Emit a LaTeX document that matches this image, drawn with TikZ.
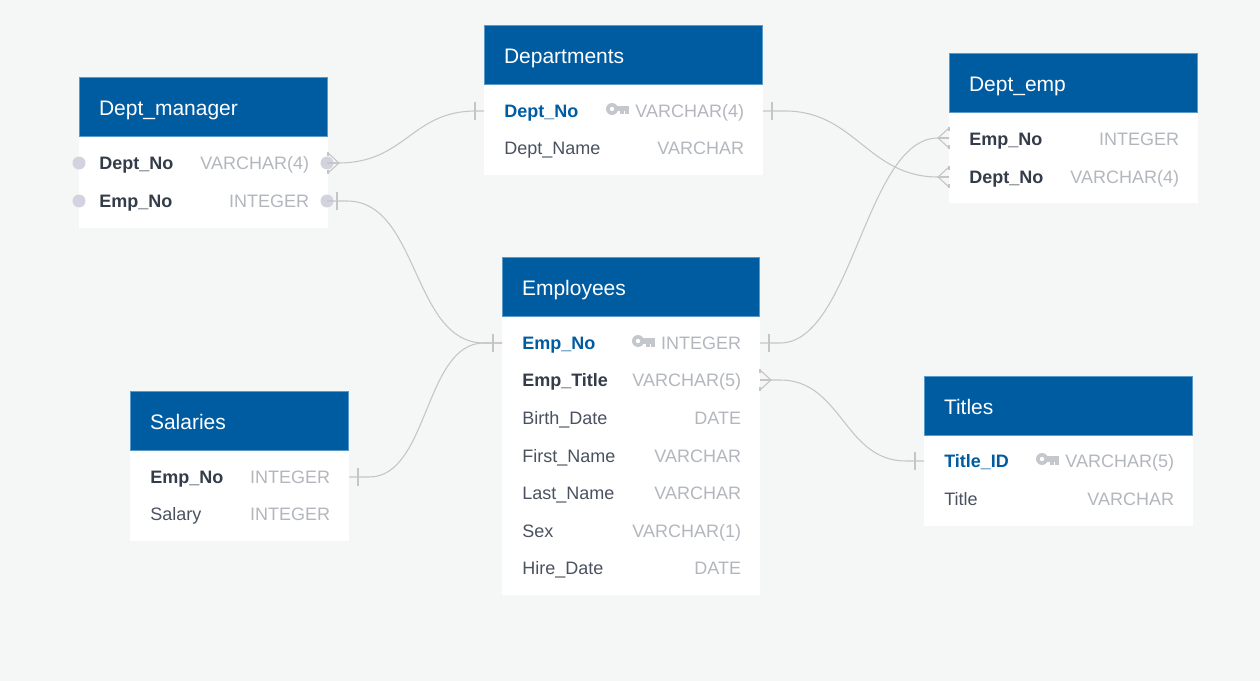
\documentclass[tikz,border=0pt]{standalone}
\usepackage{fontspec}
\usetikzlibrary{calc}
\setmainfont{Liberation Sans}
\definecolor{pagebg}{HTML}{F5F7F6}
\definecolor{headblue}{HTML}{005CA1}
\definecolor{headedge}{HTML}{5A9ACB}
\definecolor{boldtext}{HTML}{333C48}
\definecolor{plaintext}{HTML}{4A5260}
\definecolor{typetext}{HTML}{B3B7BD}
\definecolor{relcolor}{HTML}{C4C5C4}
\definecolor{dotcolor}{HTML}{D2D3DE}
\definecolor{keycolor}{HTML}{C4C7CC}
\def\px{0.75pt}
\tikzset{
  tablehead/.style={anchor=north west,fill=headblue,draw=headedge,line width=0.3pt,outer sep=0pt,text=white,inner xsep=20*\px,inner ysep=0pt,
    minimum height=59.6*\px,text height=21*\px,text depth=3*\px,align=left,font=\fontsize{15.75}{18}\selectfont},
  tablebody/.style={anchor=north west,fill=white,inner sep=0pt},
  rowname/.style={anchor=base west,inner sep=0pt,text=plaintext,font=\fontsize{13.5}{16}\selectfont},
  rowbold/.style={rowname,text=boldtext,font=\fontsize{13.5}{16}\selectfont\bfseries},
  rowkey/.style={rowname,text=headblue,font=\fontsize{13.5}{16}\selectfont\bfseries},
  rowtype/.style={anchor=base east,xshift=0.3*\px,inner sep=0pt,text=typetext,font=\fontsize{13.5}{16}\selectfont},
  port/.style={inner sep=0pt,minimum size=0pt,outer sep=0pt},
  dot/.style={circle,fill=dotcolor,inner sep=0pt,minimum size=13*\px},
  relline/.style={draw=relcolor,line width=0.8pt},
  onebar/.pic={\draw[relline] (9,-9) -- (9,9);},
  crowfoot/.pic={
    \draw[relline] (0,-11) -- (0,-7);
    \draw[relline] (0,7) -- (0,11);
    \draw[relline] (0,-10) -- (11,0) -- (0,10);
    \draw[relline] (0,0) -- (11,0);
  },
  keyicon/.pic={
    \fill[keycolor] (0,0) circle (6);
    \fill[keycolor] (4,-3) rectangle (16.5,2.5);
    \fill[keycolor] (8,2) rectangle (11.5,5.5);
    \fill[keycolor] (13,2) rectangle (16.5,5.5);
    \fill[white] (0,0) circle (2.2);
  },
}
\begin{document}
\begin{tikzpicture}[x=\px,y=-\px]
\fill[pagebg] (0,0) rectangle (1260,681);
\useasboundingbox (0,0) rectangle (1260,681);
% Dept_manager
\node[tablebody,minimum width=249*\px,minimum height=91*\px] (dmBody) at (79,137) {};
\node[tablehead,text width=208.6*\px] (dmHead) at (79,77) {Dept\_manager};
\node[rowbold] (dmDeptName) at (99,170) {Dept\_No};
\node[rowtype] (dmDeptType) at (309,170) {VARCHAR(4)};
\node[rowbold] (dmEmpName) at (99,208) {Emp\_No};
\node[rowtype] (dmEmpType) at (309,208) {INTEGER};
\node[dot] (dmDeptL) at (79,163) {};
\node[dot] (dmEmpL) at (79,201) {};
\node[dot] (dmDeptR) at (327,163) {};
\node[dot] (dmEmpR) at (327,201) {};
% Departments
\node[tablebody,minimum width=279*\px,minimum height=90*\px] (dpBody) at (484,85) {};
\node[tablehead,text width=238.6*\px] (dpHead) at (484,25) {Departments};
\node[rowkey] (dpNoName) at (504,118) {Dept\_No};
\pic at (612,109) {keyicon};
\node[rowtype] (dpNoType) at (744,118) {VARCHAR(4)};
\node[rowname] (dpTitleName) at (504,155) {Dept\_Name};
\node[rowtype] (dpTitleType) at (744,155) {VARCHAR};
\node[port] (dpNoL) at (484,111) {};
\node[port] (dpNoR) at (763,111) {};
% Dept_emp
\node[tablebody,minimum width=249*\px,minimum height=90*\px] (deBody) at (949,113) {};
\node[tablehead,text width=208.6*\px] (deHead) at (949,53) {Dept\_emp};
\node[rowbold] (deEmpName) at (969,146) {Emp\_No};
\node[rowtype] (deEmpType) at (1179,146) {INTEGER};
\node[rowbold] (deDeptName) at (969,184) {Dept\_No};
\node[rowtype] (deDeptType) at (1179,184) {VARCHAR(4)};
\node[port] (deEmpL) at (949,138) {};
\node[port] (deDeptL) at (949,177) {};
% Employees
\node[tablebody,minimum width=258*\px,minimum height=278*\px] (emBody) at (502,317) {};
\node[tablehead,text width=217.6*\px] (emHead) at (502,257) {Employees};
\node[rowkey] (emNoName) at (522,349) {Emp\_No};
\pic at (638,341) {keyicon};
\node[rowtype] (emNoType) at (741,349) {INTEGER};
\node[rowbold] (emTitleName) at (522,386) {Emp\_Title};
\node[rowtype] (emTitleType) at (741,386) {VARCHAR(5)};
\node[rowname] (emBirthName) at (522,424) {Birth\_Date};
\node[rowtype] (emBirthType) at (741,424) {DATE};
\node[rowname] (emFirstName) at (522,462) {First\_Name};
\node[rowtype] (emFirstType) at (741,462) {VARCHAR};
\node[rowname] (emLastName) at (522,499) {Last\_Name};
\node[rowtype] (emLastType) at (741,499) {VARCHAR};
\node[rowname] (emSexName) at (522,537) {Sex};
\node[rowtype] (emSexType) at (741,537) {VARCHAR(1)};
\node[rowname] (emHireName) at (522,574) {Hire\_Date};
\node[rowtype] (emHireType) at (741,574) {DATE};
\node[port] (emNoL) at (502,343) {};
\node[port] (emNoR) at (760,343) {};
\node[port] (emTitleR) at (760,380) {};
% Salaries
\node[tablebody,minimum width=219*\px,minimum height=90*\px] (saBody) at (130,451) {};
\node[tablehead,text width=178.6*\px] (saHead) at (130,391) {Salaries};
\node[rowbold] (saEmpName) at (150,483) {Emp\_No};
\node[rowtype] (saEmpType) at (330,483) {INTEGER};
\node[rowname] (saPayName) at (150,520) {Salary};
\node[rowtype] (saPayType) at (330,520) {INTEGER};
\node[port] (saEmpR) at (349,477) {};
% Titles
\node[tablebody,minimum width=269*\px,minimum height=90*\px] (tiBody) at (924,436) {};
\node[tablehead,text width=228.6*\px] (tiHead) at (924,376) {Titles};
\node[rowkey] (tiIdName) at (944,467) {Title\_ID};
\pic at (1042,459) {keyicon};
\node[rowtype] (tiIdType) at (1174,467) {VARCHAR(5)};
\node[rowname] (tiNameName) at (944,505) {Title};
\node[rowtype] (tiNameType) at (1174,505) {VARCHAR};
\node[port] (tiIdL) at (924,461) {};
% relations
\draw[relline] (dmDeptR.center) -- ++(11,0) .. controls +(68,0) and +(-65,0) .. ($(dpNoL)+(-8,0)$) -- (dpNoL);
\draw[relline] (dmEmpR.center) -- ++(20,0) .. controls +(72,0) and +(-72,0) .. ($(emNoL)+(-18,0)$) -- (emNoL);
\draw[relline] (saEmpR) -- ++(20,0) .. controls +(60,0) and +(-60,0) .. ($(emNoL)+(-18,0)$) -- (emNoL);
\draw[relline] (dpNoR) -- ++(22,0) .. controls +(70,0) and +(-70,0) .. ($(deDeptL)+(-11,0)$) -- (deDeptL);
\draw[relline] (emNoR) -- ++(20,0) .. controls +(72,0) and +(-72,0) .. ($(deEmpL)+(-11,0)$) -- (deEmpL);
\draw[relline] (emTitleR) -- ++(20,0) .. controls +(62,0) and +(-62,0) .. ($(tiIdL)+(-18,0)$) -- (tiIdL);
% line ends
\pic at (328,163) {crowfoot};
\pic at (328,201) {onebar};
\pic[xscale=-1] at (484,111) {onebar};
\pic at (763,111) {onebar};
\pic[xscale=-1] at (949,138) {crowfoot};
\pic[xscale=-1] at (949,177) {crowfoot};
\pic[xscale=-1] at (502,343) {onebar};
\pic at (760,343) {onebar};
\pic at (760,380) {crowfoot};
\pic at (349,477) {onebar};
\pic[xscale=-1] at (924,461) {onebar};
\end{tikzpicture}
\end{document}
